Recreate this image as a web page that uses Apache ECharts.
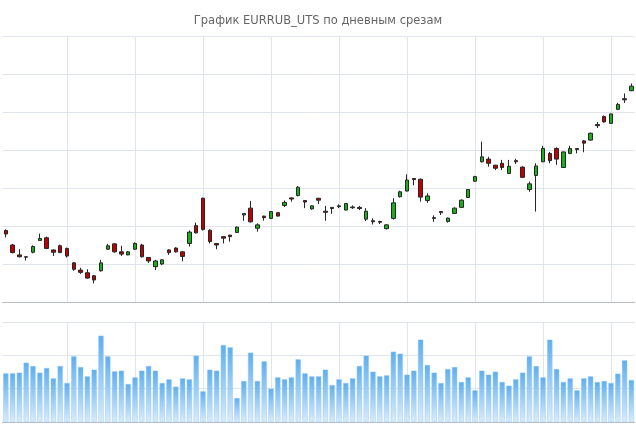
<!DOCTYPE html>
<html>
<head>
<meta charset="utf-8">
<title>EURRUB_UTS</title>
<script src="https://cdn.jsdelivr.net/npm/echarts@6/dist/echarts.min.js"></script>
<style>
    html, body { margin: 0; padding: 0; background: #fff; }
    #chart { width: 636px; height: 424px; }
</style>
</head>
<body>
<div id="chart"></div>
<script>
// дневные срезы (подписи на оси не видны, поэтому просто номера дней)
var days = Array.from({ length: 93 }, function (_, i) { return String(i + 1); });

// вертикальные линии сетки — каждый десятый день
var gridDays = ['10', '20', '30', '40', '50', '60', '70', '80', '90'];

var open = [71.88, 71.50, 71.24, 71.19, 71.31, 71.62, 71.69, 71.37, 71.48, 71.41,
    71.03, 70.84, 70.77, 70.69, 70.82, 71.39, 71.53, 71.32, 71.24, 71.39,
    71.50, 71.17, 70.93, 71.00, 71.37, 71.42, 71.32, 71.54, 72.01, 72.73,
    71.89, 71.54, 71.72, 71.76, 71.83, 72.29, 72.47, 71.94, 72.26, 72.20,
    72.35, 72.54, 72.74, 72.80, 72.67, 72.45, 72.73, 72.39, 72.49, 72.53,
    72.42, 72.48, 72.49, 72.18, 72.14, 72.12, 71.93, 72.20, 72.77, 72.92,
    73.25, 73.23, 72.67, 72.22, 72.38, 72.12, 72.33, 72.49, 72.75, 73.18,
    73.69, 73.76, 73.60, 73.65, 73.38, 73.72, 73.55, 72.96, 73.33, 73.69,
    73.91, 74.04, 73.54, 73.91, 74.04, 74.24, 74.26, 74.67, 74.88, 74.70,
    75.07, 75.35, 75.56];

var close = [71.79, 71.30, 71.19, 71.18, 71.46, 71.67, 71.41, 71.31, 71.30, 71.21,
    70.86, 70.78, 70.63, 70.58, 71.03, 71.48, 71.32, 71.26, 71.32, 71.54,
    71.19, 71.08, 71.08, 71.11, 71.30, 71.32, 71.20, 71.84, 71.82, 71.91,
    71.59, 71.50, 71.68, 71.72, 71.97, 72.33, 72.11, 72.03, 72.22, 72.38,
    72.26, 72.62, 72.71, 73.02, 72.63, 72.53, 72.68, 72.36, 72.46, 72.51,
    72.59, 72.50, 72.46, 72.39, 72.11, 72.10, 72.03, 72.61, 72.90, 73.21,
    73.22, 72.76, 72.79, 72.20, 72.35, 72.21, 72.47, 72.68, 72.96, 73.30,
    73.82, 73.65, 73.52, 73.54, 73.57, 73.69, 73.28, 73.11, 73.58, 74.04,
    73.72, 73.76, 73.95, 74.04, 74.01, 74.18, 74.44, 74.64, 74.74, 74.95,
    75.20, 75.32, 75.68];

var low = [71.70, 71.28, 71.17, 71.09, 71.28, 71.61, 71.39, 71.21, 71.29, 71.17,
    70.82, 70.74, 70.61, 70.49, 70.80, 71.37, 71.30, 71.21, 71.23, 71.37,
    71.17, 71.03, 70.84, 70.97, 71.24, 71.30, 71.07, 71.46, 71.80, 71.88,
    71.54, 71.39, 71.54, 71.59, 71.82, 72.14, 72.09, 71.85, 72.14, 72.18,
    72.25, 72.50, 72.64, 72.78, 72.47, 72.43, 72.58, 72.14, 72.32, 72.47,
    72.41, 72.45, 72.42, 72.13, 72.04, 72.05, 71.91, 72.17, 72.75, 72.91,
    73.07, 72.64, 72.61, 72.11, 72.29, 72.09, 72.32, 72.48, 72.74, 73.16,
    73.67, 73.56, 73.47, 73.47, 73.37, 73.63, 73.26, 72.90, 72.38, 73.68,
    73.65, 73.61, 73.53, 73.89, 73.91, 73.94, 74.24, 74.58, 74.72, 74.69,
    75.05, 75.24, 75.55];

var high = [71.91, 71.53, 71.39, 71.20, 71.49, 71.80, 71.72, 71.38, 71.51, 71.43,
    71.05, 70.90, 70.86, 70.71, 71.11, 71.53, 71.54, 71.48, 71.34, 71.57,
    71.53, 71.18, 71.11, 71.13, 71.39, 71.44, 71.34, 71.88, 72.09, 72.75,
    71.91, 71.55, 71.73, 71.77, 71.99, 72.34, 72.66, 72.07, 72.27, 72.39,
    72.37, 72.67, 72.75, 73.05, 72.68, 72.54, 72.74, 72.53, 72.50, 72.57,
    72.60, 72.54, 72.53, 72.47, 72.20, 72.14, 72.04, 72.73, 72.93, 73.36,
    73.26, 73.25, 72.86, 72.28, 72.39, 72.22, 72.49, 72.70, 72.97, 73.32,
    74.22, 73.82, 73.61, 73.74, 73.74, 73.77, 73.57, 73.17, 73.65, 74.11,
    73.95, 74.07, 73.96, 74.11, 74.05, 74.26, 74.46, 74.74, 74.91, 74.96,
    75.24, 75.49, 75.75];

var volume = [146, 146, 148, 178, 168, 148, 162, 131, 168, 117,
    197, 165, 137, 157, 259, 197, 152, 154, 114, 134,
    154, 168, 154, 117, 128, 106, 131, 128, 199, 92,
    157, 154, 231, 224, 72, 123, 208, 123, 182, 100,
    134, 128, 134, 188, 146, 137, 137, 157, 111, 128,
    117, 131, 168, 199, 151, 137, 140, 211, 205, 142,
    154, 247, 171, 148, 117, 159, 165, 120, 134, 95,
    154, 142, 151, 120, 109, 128, 148, 197, 168, 134,
    247, 159, 120, 131, 95, 131, 137, 120, 123, 117,
    145, 185, 126];

// шкалы цены и объёма
var priceMin = 70, priceMax = 77, priceStep = 1;
var volMin = 0, volMax = 300, volStep = 100;

var gridColor = '#dfe5eb';
var axisColor = '#b9bec4';

var ohlc = [];
for (var i = 0; i < days.length; i++) {
    ohlc.push([open[i], close[i], low[i], high[i]]);
}

// вертикальная сетка через markLine, чтобы линии шли по центрам свечей
var vLines = {
    silent: true,
    symbol: 'none',
    z: 0,
    label: { show: false },
    lineStyle: { color: gridColor, type: 'solid', width: 1 },
    data: gridDays.map(function (d) { return { xAxis: d }; })
};

function makeXAxis(gridIndex) {
    return {
        type: 'category',
        gridIndex: gridIndex,
        data: days,
        boundaryGap: true,
        axisLine: { lineStyle: { color: axisColor, width: 1 } },
        axisTick: { show: false },
        axisLabel: { show: false },
        splitLine: { show: false }
    };
}

function makeYAxis(gridIndex, min, max, step) {
    return {
        type: 'value',
        gridIndex: gridIndex,
        min: min,
        max: max,
        interval: step,
        axisLine: { show: false },
        axisTick: { show: false },
        axisLabel: { show: false },
        splitLine: { show: true, lineStyle: { color: gridColor, width: 1 } }
    };
}

var chart = echarts.init(document.getElementById('chart'));
chart.setOption({
    animation: false,
    backgroundColor: '#fff',
    title: {
        text: 'График EURRUB_UTS по дневным срезам',
        left: 'center',
        top: 10,
        textStyle: { color: '#666', fontSize: 11.5, fontWeight: 'normal', fontFamily: 'DejaVu Sans' }
    },
    grid: [
        { left: 2.4, right: 1.2, top: 36, height: 266 },
        { left: 2.4, right: 1.2, top: 322, height: 100 }
    ],
    xAxis: [makeXAxis(0), makeXAxis(1)],
    yAxis: [
        makeYAxis(0, priceMin, priceMax, priceStep),
        makeYAxis(1, volMin, volMax, volStep)
    ],
    series: [{
        type: 'candlestick',
        xAxisIndex: 0,
        yAxisIndex: 0,
        barWidth: 4,
        data: ohlc,
        itemStyle: {
            color: '#18b018',
            color0: '#bf0000',
            borderColor: '#262626',
            borderColor0: '#262626',
            borderWidth: 1
        },
        markLine: vLines
    }, {
        type: 'bar',
        xAxisIndex: 1,
        yAxisIndex: 1,
        barCategoryGap: '22%',
        data: volume,
        itemStyle: {
            color: new echarts.graphic.LinearGradient(0, 0, 0, 1, [
                { offset: 0, color: '#5eaeef' },
                { offset: 1, color: '#d8ecfc' }
            ]),
            borderColor: 'rgba(150,200,245,0.9)',
            borderWidth: 0.5
        },
        markLine: vLines
    }]
});
</script>
</body>
</html>
